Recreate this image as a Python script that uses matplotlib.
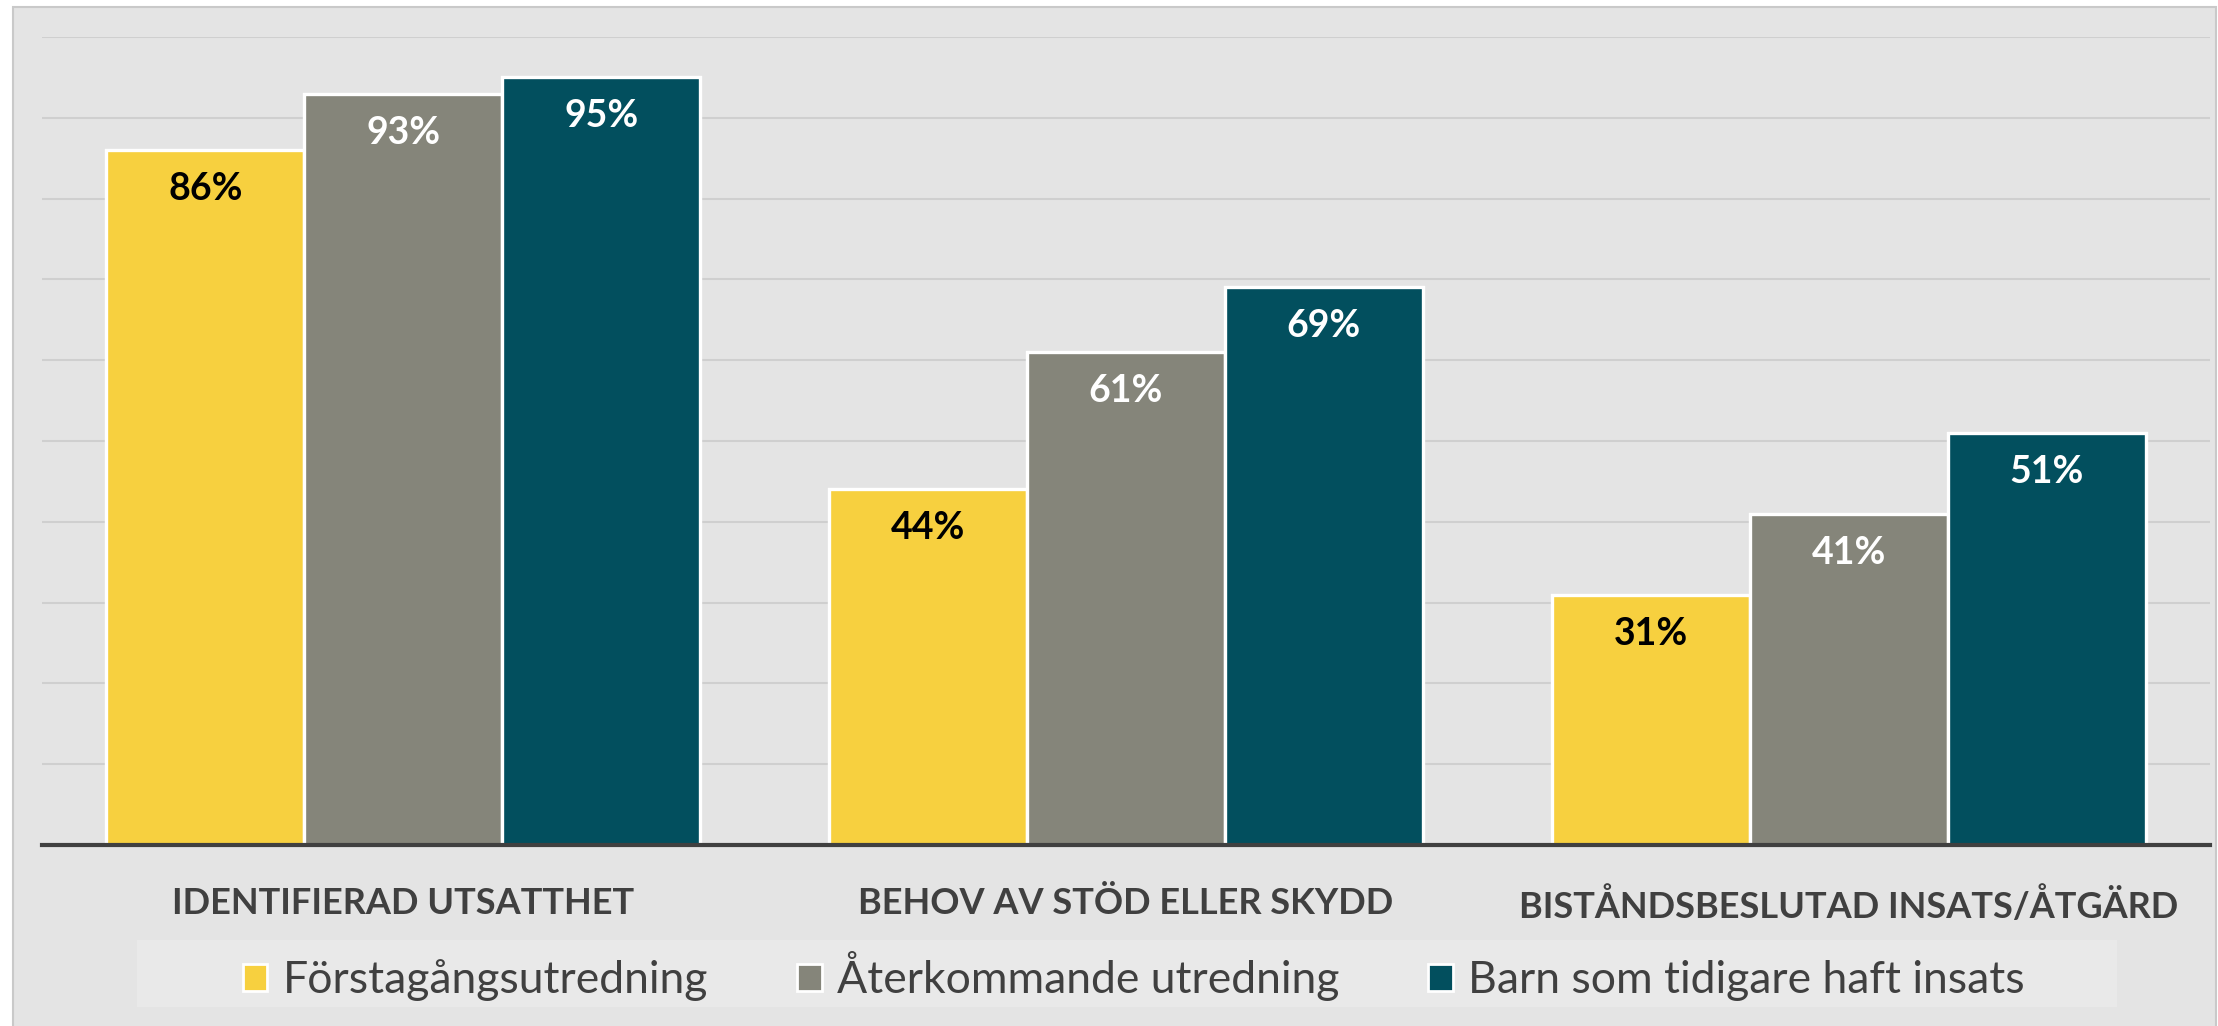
import matplotlib
matplotlib.use("Agg")
import matplotlib.pyplot as plt
from matplotlib.patches import Rectangle, Patch
from matplotlib import font_manager
import numpy as np

categories = ["IDENTIFIERAD UTSATTHET", "BEHOV AV STÖD ELLER SKYDD", "BISTÅNDSBESLUTAD INSATS/ÅTGÄRD"]
series_names = ["Förstagångsutredning", "Återkommande utredning", "Barn som tidigare haft insats"]
forsta = [86, 44, 31]
aterkommande = [93, 61, 41]
tidigare = [95, 69, 51]

colors = ["#F7D03F", "#85857A", "#024F5E"]
label_colors = ["black", "white", "white"]

names = {f.name for f in font_manager.fontManager.ttflist}
fam = "DejaVu Sans"
for cand in ["Lato", "Open Sans", "Roboto"]:
    if cand in names:
        fam = cand
        break
plt.rcParams["font.family"] = [fam, "DejaVu Sans"]

W, H = 2218, 1026
fig = plt.figure(figsize=(W / 100, H / 100), dpi=100)
fig.patch.set_facecolor("white")

# outer panel
fig.patches.append(Rectangle((13 / W, -0.01), (2216 - 13) / W, (1026 - 7) / H + 0.01,
                             transform=fig.transFigure, facecolor="#E4E4E4",
                             edgecolor="#C9C9C9", linewidth=1.5, zorder=-3))
# legend background box
fig.patches.append(Rectangle((137 / W, (H - 1007) / H), (2117 - 137) / W, 67 / H,
                             transform=fig.transFigure, facecolor="#E9E9E9",
                             edgecolor="none", zorder=-2))

ax = fig.add_axes([42 / W, (H - 845) / H, (2210 - 42) / W, (845 - 37) / H])
ax.set_facecolor("none")
ax.set_xlim(-0.5, 2.5)
ax.set_ylim(0, 100)

x = np.arange(len(categories))
bw = 198 / 723
series = [forsta, aterkommande, tidigare]
for i, (vals, c, lc, nm) in enumerate(zip(series, colors, label_colors, series_names)):
    pos = x + (i - 1) * bw
    ax.bar(pos, vals, width=bw, color=c, edgecolor="white", linewidth=2.4, zorder=3, label=nm)
    for p, v in zip(pos, vals):
        ax.annotate(f"{v}%", (p, v), xytext=(0, -36), textcoords="offset points",
                    ha="center", va="baseline", fontsize=27, fontweight="bold",
                    color=lc, zorder=4)

ax.set_yticks(np.arange(10, 101, 10))
ax.set_yticklabels([])
ax.tick_params(axis="y", length=0)
ax.grid(axis="y", color="#CFCFCF", linewidth=1.5, zorder=1)
ax.set_axisbelow(True)

ax.set_xticks(x)
ax.set_xticklabels(categories, fontsize=26, fontweight="bold", color="#404040")
ax.tick_params(axis="x", length=0, pad=30)

for s in ["top", "right", "left"]:
    ax.spines[s].set_visible(False)
ax.spines["bottom"].set_color("#404040")
ax.spines["bottom"].set_linewidth(3)
ax.spines["bottom"].set_zorder(5)

handles = [Patch(facecolor=c, edgecolor="white", linewidth=2) for c in colors]
fig.legend(handles, series_names, loc="center", bbox_to_anchor=(1134 / W, (H - 976) / H),
           ncol=3, frameon=False, fontsize=32, labelcolor="#404040",
           handlelength=0.55, handleheight=0.55, handletextpad=0.35, columnspacing=2.0)

fig.savefig("out.png", dpi=100, facecolor=fig.get_facecolor())
